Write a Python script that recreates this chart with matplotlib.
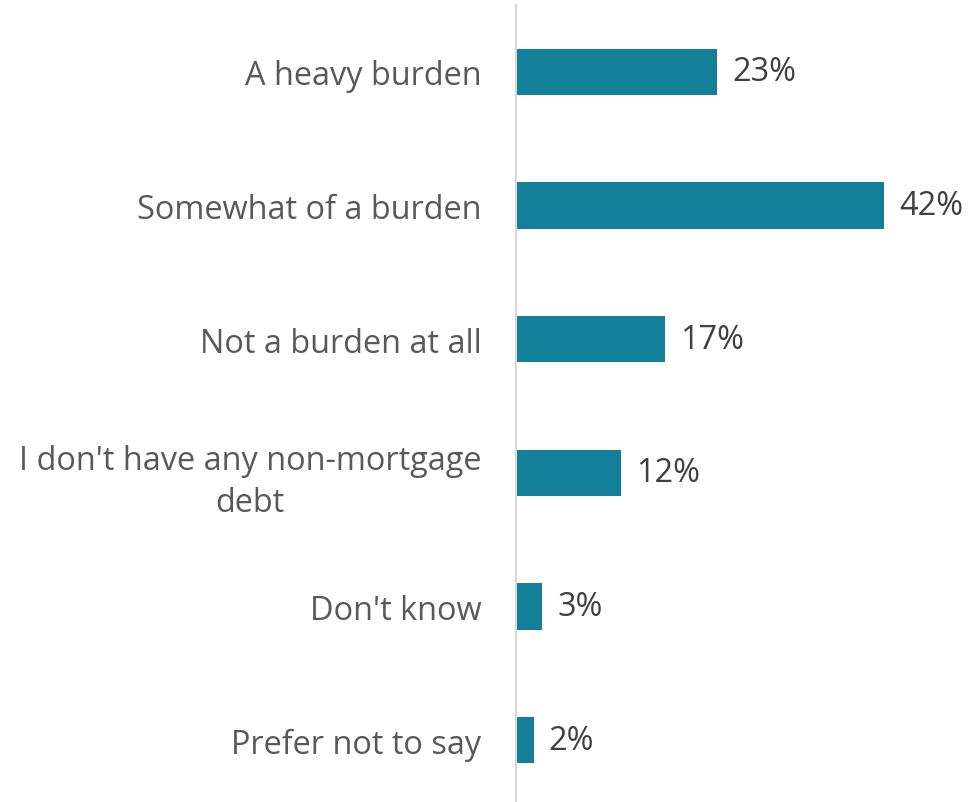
import numpy as np
import matplotlib.pyplot as plt

categories = [
    "A heavy burden",
    "Somewhat of a burden",
    "Not a burden at all",
    "I don't have any non-mortgage\ndebt",
    "Don't know",
    "Prefer not to say",
]
values = [23, 42, 17, 12, 3, 2]
value_labels = ["23%", "42%", "17%", "12%", "3%", "2%"]

BAR_COLOR = "#137F99"
TEXT_COLOR = "#595959"
AXIS_COLOR = "#D9D9D9"

plt.rcParams["font.family"] = ["Open Sans", "DejaVu Sans"]

fig = plt.figure(figsize=(9.68, 8.03), dpi=100)
ax = fig.add_axes([516 / 968, -5 / 803, 413 / 968, 802 / 803])

y = np.arange(len(categories))
ax.barh(y, values, height=0.345, color=BAR_COLOR)

ax.set_xlim(0, 47.15)
ax.set_ylim(len(categories) - 0.5, -0.5)

ax.set_yticks(y)
ax.set_yticklabels(categories, fontsize=23.4, color=TEXT_COLOR,
                   multialignment="center", linespacing=1.35)
ax.tick_params(axis="y", length=0, pad=25)
ax.set_xticks([])

for spine in ["top", "right", "bottom"]:
    ax.spines[spine].set_visible(False)
ax.spines["left"].set_color(AXIS_COLOR)
ax.spines["left"].set_linewidth(1.5)

for i, (v, lbl) in enumerate(zip(values, value_labels)):
    ax.annotate(lbl, (v, i), xytext=(11, 0), textcoords="offset points",
                va="center", ha="left", fontsize=23.4, color="#404040")

fig.savefig("out.png", dpi=100)
